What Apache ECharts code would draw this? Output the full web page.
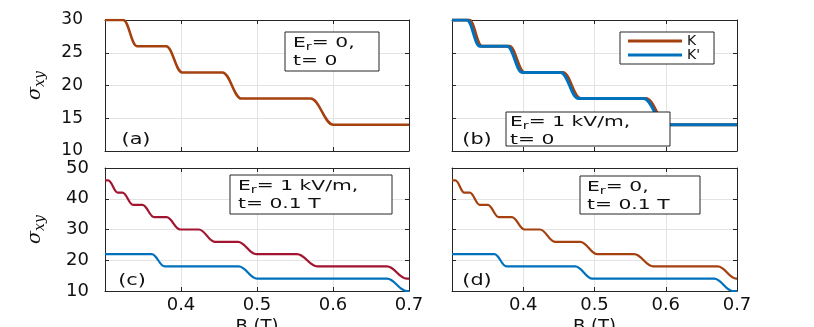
<!DOCTYPE html>
<html>
<head>
<meta charset="utf-8">
<script src="https://cdn.jsdelivr.net/npm/echarts@6/dist/echarts.min.js"></script>
<style>
html, body { margin: 0; padding: 0; background: #fff; }
#main { width: 814px; height: 327px; }
</style>
</head>
<body>
<div id="main"></div>
<script>
// 曲线的拐点 [B (T), σxy]
var curveA = [[0.3, 30], [0.324, 30], [0.342, 26], [0.3805, 26], [0.4015, 22], [0.4545, 22], [0.4795, 18], [0.5705, 18], [0.6005, 14], [0.7, 14]];
var curveBK = [[0.3, 30], [0.324, 30], [0.342, 26], [0.3805, 26], [0.4015, 22], [0.4555, 22], [0.4805, 18], [0.572, 18], [0.602, 14], [0.7, 14]];
var curveBK2 = [[0.3, 30], [0.321, 30], [0.339, 26], [0.3775, 26], [0.3985, 22], [0.4525, 22], [0.4775, 18], [0.569, 18], [0.599, 14], [0.7, 14]];
var curveCUp = [[0.3, 46], [0.3042, 46], [0.3168, 42], [0.323, 42], [0.337, 38], [0.3493, 38], [0.3647, 34], [0.381, 34], [0.399, 30], [0.4235, 30], [0.4445, 26], [0.475, 26], [0.499, 22], [0.5525, 22], [0.5795, 18], [0.671, 18], [0.697, 14], [0.7, 14]];
var curveCLow = [[0.3, 22], [0.3615, 22], [0.3785, 18], [0.476, 18], [0.5, 14], [0.671, 14], [0.697, 10], [0.7, 10]];
var curveDUp = [[0.3, 46], [0.3047, 46], [0.3173, 42], [0.325, 42], [0.339, 38], [0.3503, 38], [0.3657, 34], [0.384, 34], [0.402, 30], [0.4235, 30], [0.4445, 26], [0.48, 26], [0.504, 22], [0.5555, 22], [0.5825, 18], [0.673, 18], [0.699, 14], [0.7, 14]];
var curveDLow = [[0.3, 22], [0.3595, 22], [0.3765, 18], [0.473, 18], [0.497, 14], [0.668, 14], [0.694, 10], [0.7, 10]];

// 坐标轴范围
var xRange = [0.3, 0.7, 0.1];
var yRangeTop = [10, 30, 5];
var yRangeBottom = [10, 50, 10];

var brown = '#a5400f';
var blue = '#0072bd';
var red = '#a2142f';
var font = 'DejaVu Sans';
var ink = '#262626';

var myChart = echarts.init(document.getElementById('main'));

var grids = [
  { left: 105, top: 20, width: 304, height: 131, outerBoundsMode: 'none' },
  { left: 452, top: 20, width: 285, height: 131, outerBoundsMode: 'none' },
  { left: 105, top: 168, width: 304, height: 123, outerBoundsMode: 'none' },
  { left: 452, top: 168, width: 285, height: 123, outerBoundsMode: 'none' }
];

var xAxes = [];
var yAxes = [];
grids.forEach(function (g, i) {
  var bottomRow = i >= 2;
  var leftCol = i % 2 === 0;
  var yr = bottomRow ? yRangeBottom : yRangeTop;
  // 下、上两条 x 轴
  xAxes.push({
    type: 'value', gridIndex: i, min: xRange[0], max: xRange[1], interval: xRange[2],
    position: 'bottom',
    axisLine: { onZero: false, lineStyle: { color: ink } },
    axisTick: { inside: true, length: 4, lineStyle: { color: ink } },
    axisLabel: {
      show: bottomRow, showMinLabel: false, color: '#111', fontFamily: font, fontSize: 18, margin: 5,
      formatter: function (v) { return v.toFixed(1); }
    },
    splitLine: { show: true, lineStyle: { color: '#e3e3e3' } },
    name: bottomRow ? 'B (T)' : '', nameLocation: 'middle', nameGap: 27,
    nameTextStyle: { color: '#111', fontFamily: font, fontSize: 18 }
  });
  xAxes.push({
    type: 'value', gridIndex: i, min: xRange[0], max: xRange[1], interval: xRange[2],
    position: 'top',
    axisLine: { onZero: false, lineStyle: { color: ink } },
    axisTick: { inside: true, length: 4, lineStyle: { color: ink } },
    axisLabel: { show: false }, splitLine: { show: false }
  });
  // 左、右两条 y 轴
  yAxes.push({
    type: 'value', gridIndex: i, min: yr[0], max: yr[1], interval: yr[2],
    position: 'left',
    axisLine: { show: true, onZero: false, lineStyle: { color: ink } },
    axisTick: { show: true, inside: true, length: 4, lineStyle: { color: ink } },
    axisLabel: { show: leftCol, color: '#111', fontFamily: font, fontSize: bottomRow ? 18 : 17, margin: bottomRow ? 16 : 22 },
    splitLine: { show: true, lineStyle: { color: '#e3e3e3' } },
    name: leftCol ? '{n|σ}{s|xy}' : '', nameLocation: 'middle', nameGap: 58, nameRotate: 90,
    nameTextStyle: {
      rich: {
        n: { fontSize: 19, fontStyle: 'italic', fontFamily: 'DejaVu Serif', color: '#111' },
        s: { fontSize: 14, fontStyle: 'italic', fontFamily: 'DejaVu Serif', color: '#111', padding: [10, 0, 0, 0] }
      }
    }
  });
  yAxes.push({
    type: 'value', gridIndex: i, min: yr[0], max: yr[1], interval: yr[2],
    position: 'right',
    axisLine: { show: true, onZero: false, lineStyle: { color: ink } },
    axisTick: { show: true, inside: true, length: 4, lineStyle: { color: ink } },
    axisLabel: { show: false }, splitLine: { show: false }
  });
});

function line(name, idx, data, color, width) {
  return {
    name: name, type: 'line', xAxisIndex: idx * 2, yAxisIndex: idx * 2,
    data: data, symbol: 'none', smooth: 0.4, smoothMonotone: 'x',
    lineStyle: { color: color, width: width }, itemStyle: { color: color }
  };
}

function box(x, y, w, h) {
  return { type: 'rect', shape: { x: x, y: y, width: w, height: h }, style: { fill: '#fff', stroke: ink, lineWidth: 1 }, z: 10 };
}

var richBox = {
  n: { fontSize: 14, fontFamily: font, fill: '#111', lineHeight: 18 },
  s: { fontSize: 10, fontFamily: font, fill: '#111', lineHeight: 10, padding: [9, 0, 0, 0] }
};

function note(x, y, txt) {
  return {
    type: 'text', x: x, y: y, scaleX: 1.45, z: 11,
    style: { text: txt, rich: richBox, align: 'left', verticalAlign: 'middle', fill: '#111' }
  };
}

function tag(x, y, txt) {
  return {
    type: 'text', x: x, y: y, scaleX: 1.3, z: 11,
    style: { text: txt, font: '16px "DejaVu Sans"', fill: '#111', align: 'center', verticalAlign: 'middle' }
  };
}

var option = {
  animation: false,
  grid: grids,
  xAxis: xAxes,
  yAxis: yAxes,
  legend: {
    data: ['K', "K'"], left: 620, top: 32, orient: 'vertical',
    borderColor: ink, borderWidth: 1, padding: [2, 14, 2, 8],
    itemWidth: 54, itemHeight: 3, itemGap: 0, icon: 'rect',
    backgroundColor: '#fff',
    textStyle: { color: '#111', fontFamily: font, fontSize: 14, lineHeight: 13 }
  },
  series: [
    line('a', 0, curveA, brown, 2.5),
    line('K', 1, curveBK, brown, 3),
    line("K'", 1, curveBK2, blue, 3),
    line('c1', 2, curveCUp, red, 2.2),
    line('c2', 2, curveCLow, blue, 2.2),
    line('d1', 3, curveDUp, brown, 2.2),
    line('d2', 3, curveDLow, blue, 2.2)
  ],
  graphic: [
    box(285, 32, 94, 39),
    note(293, 52, '{n|E}{s|r}{n|= 0,}\n{n|t= 0}'),
    box(506, 112, 164, 34),
    note(510, 131, '{n|E}{s|r}{n|= 1 kV/m,}\n{n|t= 0}'),
    box(230, 175, 162, 39),
    note(238, 195, '{n|E}{s|r}{n|= 1 kV/m,}\n{n|t= 0.1 T}'),
    box(580, 176, 120, 38),
    note(587, 196, '{n|E}{s|r}{n|= 0,}\n{n|t= 0.1 T}'),
    tag(136, 140, '(a)'),
    tag(477, 140, '(b)'),
    tag(132, 281, '(c)'),
    tag(477, 281, '(d)')
  ]
};

myChart.setOption(option);
</script>
</body>
</html>
